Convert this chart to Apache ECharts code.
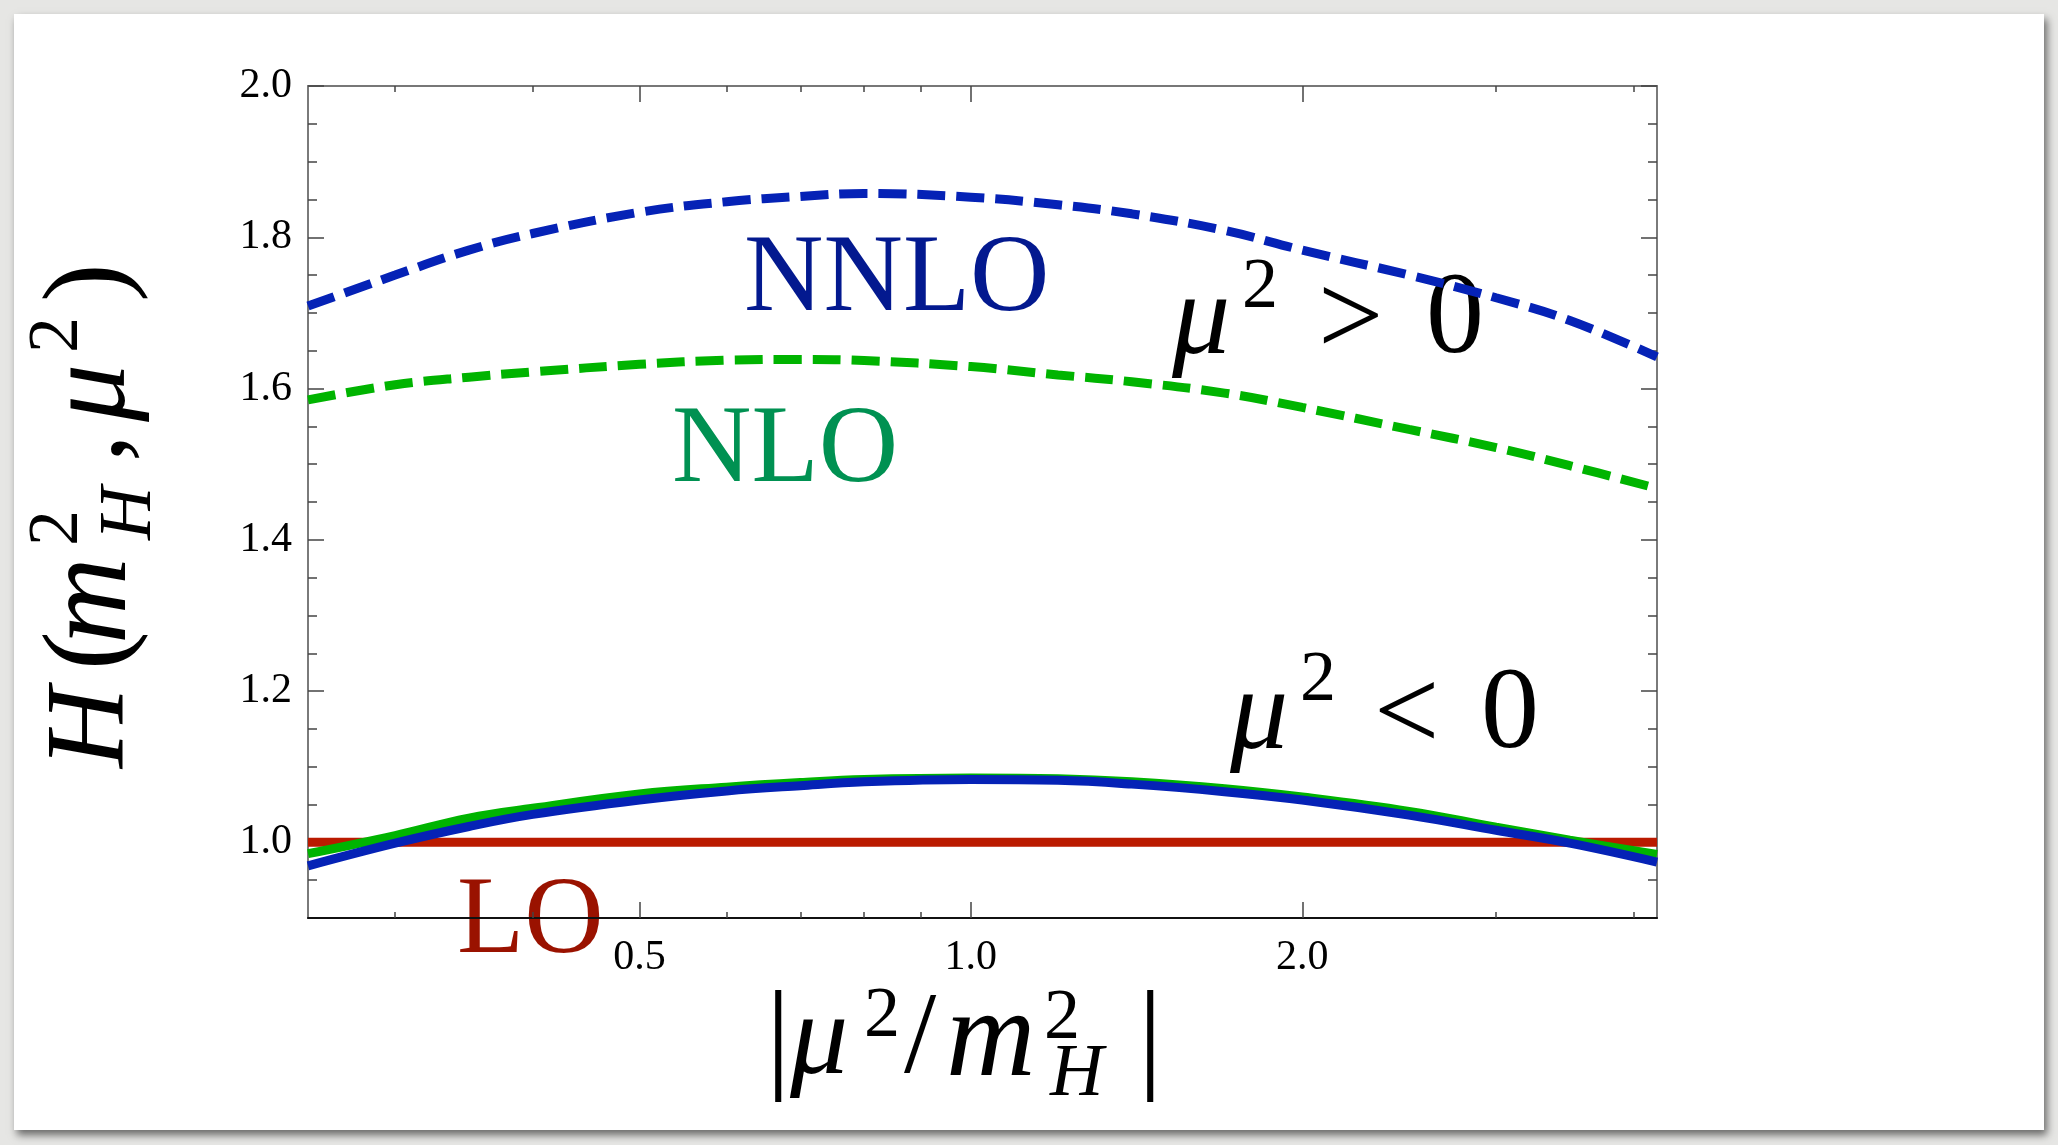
<!DOCTYPE html>
<html>
<head>
<meta charset="utf-8">
<script src="https://cdn.jsdelivr.net/npm/echarts@6/dist/echarts.min.js"></script>
<style>
  html, body { margin: 0; padding: 0; width: 2058px; height: 1145px; overflow: hidden; background: #e6e6e4; }
  #card { position: absolute; left: 14px; top: 14px; width: 2030px; height: 1116px; background: #fff;
          box-shadow: 3px 5px 8px rgba(0,0,0,0.55); }
  #main { position: absolute; left: 0; top: 0; width: 2058px; height: 1145px; }
</style>
</head>
<body>
<div id="card"></div>
<div id="main"></div>
<script>
// |mu^2 / m_H^2| (log scale on the x axis)
var mu = [0.25, 0.3, 0.35, 0.4, 0.5, 0.6, 0.7, 0.8, 1.0, 1.2, 1.4, 1.7, 2.0, 2.5, 3.0, 3.5, 4.2]
// mu^2 > 0 (dashed)
var nnloPos = [1.709, 1.750, 1.783, 1.805, 1.833, 1.847, 1.854, 1.858, 1.853, 1.843, 1.831, 1.809, 1.783, 1.750, 1.720, 1.690, 1.642]
var nloPos = [1.585, 1.605, 1.615, 1.622, 1.632, 1.6375, 1.6385, 1.637, 1.629, 1.618, 1.609, 1.594, 1.575, 1.546, 1.522, 1.498, 1.468]
// mu^2 < 0 (solid)
var nnloNeg = [0.969, 0.999, 1.021, 1.037, 1.056, 1.068, 1.075, 1.080, 1.083, 1.082, 1.077, 1.067, 1.056, 1.036, 1.016, 0.999, 0.974]
var nloNeg = [0.985, 1.009, 1.032, 1.045, 1.064, 1.073, 1.079, 1.083, 1.085, 1.084, 1.080, 1.071, 1.060, 1.041, 1.020, 1.003, 0.984]
var lo = [1, 1, 1, 1, 1, 1, 1, 1, 1, 1, 1, 1, 1, 1, 1, 1, 1]

var xMajor = [0.5, 1.0, 2.0]
var xMinor = [0.3, 0.4, 0.6, 0.7, 0.8, 0.9, 3.0, 4.0]
var yMajor = [1.0, 1.2, 1.4, 1.6, 1.8, 2.0]
var yMinor = [0.95, 1.05, 1.1, 1.15, 1.25, 1.3, 1.35, 1.45, 1.5, 1.55, 1.65, 1.7, 1.75, 1.85, 1.9, 1.95]

var BLUE = '#0522b6', GREEN = '#00b400', RED = '#ba1a00'
var SERIF = '"Liberation Serif", "DejaVu Serif", serif'

function pts(ys) {
  return mu.map(function (m, i) { return [Math.log2(m), ys[i]] })
}
function lg(arr) { return arr.map(function (v) { return Math.log2(v) }) }

function xAx(pos, vals, len, showLine, labels) {
  return {
    type: 'value', position: pos, min: -2, max: Math.log2(4.2),
    axisLine: { show: showLine, onZero: false, lineStyle: { color: pos == 'bottom' ? '#111' : '#777', width: 2 } },
    axisTick: { show: true, inside: true, length: len, customValues: lg(vals), lineStyle: { color: '#444', width: 1.5 } },
    axisLabel: {
      show: labels, customValues: lg(vals), margin: 19,
      fontFamily: SERIF, fontSize: 42, color: '#000',
      formatter: function (v) { return Math.pow(2, v).toFixed(1) }
    },
    splitLine: { show: false }
  }
}
function yAx(pos, vals, len, showLine, labels) {
  return {
    type: 'value', position: pos, min: 0.9, max: 2.0,
    axisLine: { show: showLine, onZero: false, lineStyle: { color: '#7a7a7a', width: 2 } },
    axisTick: { show: true, inside: true, length: len, customValues: vals, lineStyle: { color: '#444', width: 1.5 } },
    axisLabel: {
      show: labels, customValues: vals, margin: 16,
      fontFamily: SERIF, fontSize: 42, color: '#000',
      formatter: function (v) { return v.toFixed(1) }
    },
    splitLine: { show: false }
  }
}

function txt(s, x, y, size, color, italic) {
  return {
    type: 'text', x: x, y: y, silent: true,
    style: {
      text: s, fill: color, align: 'left', verticalAlign: 'middle',
      font: (italic ? 'italic ' : '') + size + 'px ' + SERIF
    }
  }
}

function line(name, ys, color, width, dashed) {
  return {
    name: name, type: 'line', data: pts(ys), smooth: 0.4, symbol: 'none',
    xAxisIndex: 0, yAxisIndex: 0,
    lineStyle: { color: color, width: width, type: dashed ? [28, 11] : 'solid', cap: 'butt' }
  }
}

var chart = echarts.init(document.getElementById('main'), null, { renderer: 'canvas' })

var option = {
  backgroundColor: 'transparent',
  animation: false,
  grid: { left: 308, top: 86, right: 401, bottom: 227, containLabel: false },
  xAxis: [
    xAx('bottom', xMajor, 16, true, true),
    xAx('bottom', xMinor, 6, false, false),
    xAx('top', xMajor, 16, true, false),
    xAx('top', xMinor, 6, false, false)
  ],
  yAxis: [
    yAx('left', yMajor, 16, true, true),
    yAx('left', yMinor, 9, false, false),
    yAx('right', yMajor, 16, true, false),
    yAx('right', yMinor, 9, false, false)
  ],
  series: [
    line('LO', lo, RED, 9, false),
    line('NLO, mu2<0', nloNeg, GREEN, 9, false),
    line('NNLO, mu2<0', nnloNeg, BLUE, 9, false),
    line('NLO, mu2>0', nloPos, GREEN, 9, true),
    line('NNLO, mu2>0', nnloPos, BLUE, 9, true)
  ],
  graphic: [
    // curve labels
    txt('NNLO', 744, 281, 110, '#03198f', false),
    txt('NLO', 672, 452, 110, '#009152', false),
    txt('LO', 457, 923, 110, '#9a1200', false),
    // mu^2 > 0
    txt('\u03bc', 1172, 322, 116, '#000', true),
    txt('2', 1242, 288, 72, '#000', false),
    txt('>', 1318, 324, 116, '#000', false),
    txt('0', 1426, 322, 116, '#000', false),
    // mu^2 < 0
    txt('\u03bc', 1230, 717, 116, '#000', true),
    txt('2', 1300, 681, 72, '#000', false),
    txt('<', 1374, 719, 116, '#000', false),
    txt('0', 1481, 717, 116, '#000', false),
    // x axis title |mu^2/m_H^2|
    txt('|', 766, 1044, 122, '#000', false),
    txt('\u03bc', 790, 1042, 116, '#000', true),
    txt('2', 864, 1017, 72, '#000', false),
    txt('/', 904, 1042, 116, '#000', false),
    txt('m', 946, 1042, 124, '#000', true),
    txt('2', 1044, 1019, 72, '#000', false),
    txt('H', 1050, 1076, 74, '#000', true),
    txt('|', 1138, 1044, 122, '#000', false),
    // y axis title H(m_H^2, mu^2), reads bottom to top
    {
      type: 'group', x: 130, y: 768, rotation: Math.PI / 2, silent: true,
      children: [
        txt('H', 0, -37, 112, '#000', true),
        txt('(', 98, -37, 116, '#000', false),
        txt('m', 124, -37, 120, '#000', true),
        txt('2', 222, -72, 72, '#000', false),
        txt('H', 228, 1, 74, '#000', true),
        txt(',', 306, -37, 110, '#000', false),
        txt('\u03bc', 346, -37, 116, '#000', true),
        txt('2', 415, -72, 72, '#000', false),
        txt(')', 466, -37, 116, '#000', false)
      ]
    }
  ]
}
chart.setOption(option)
</script>
</body>
</html>
